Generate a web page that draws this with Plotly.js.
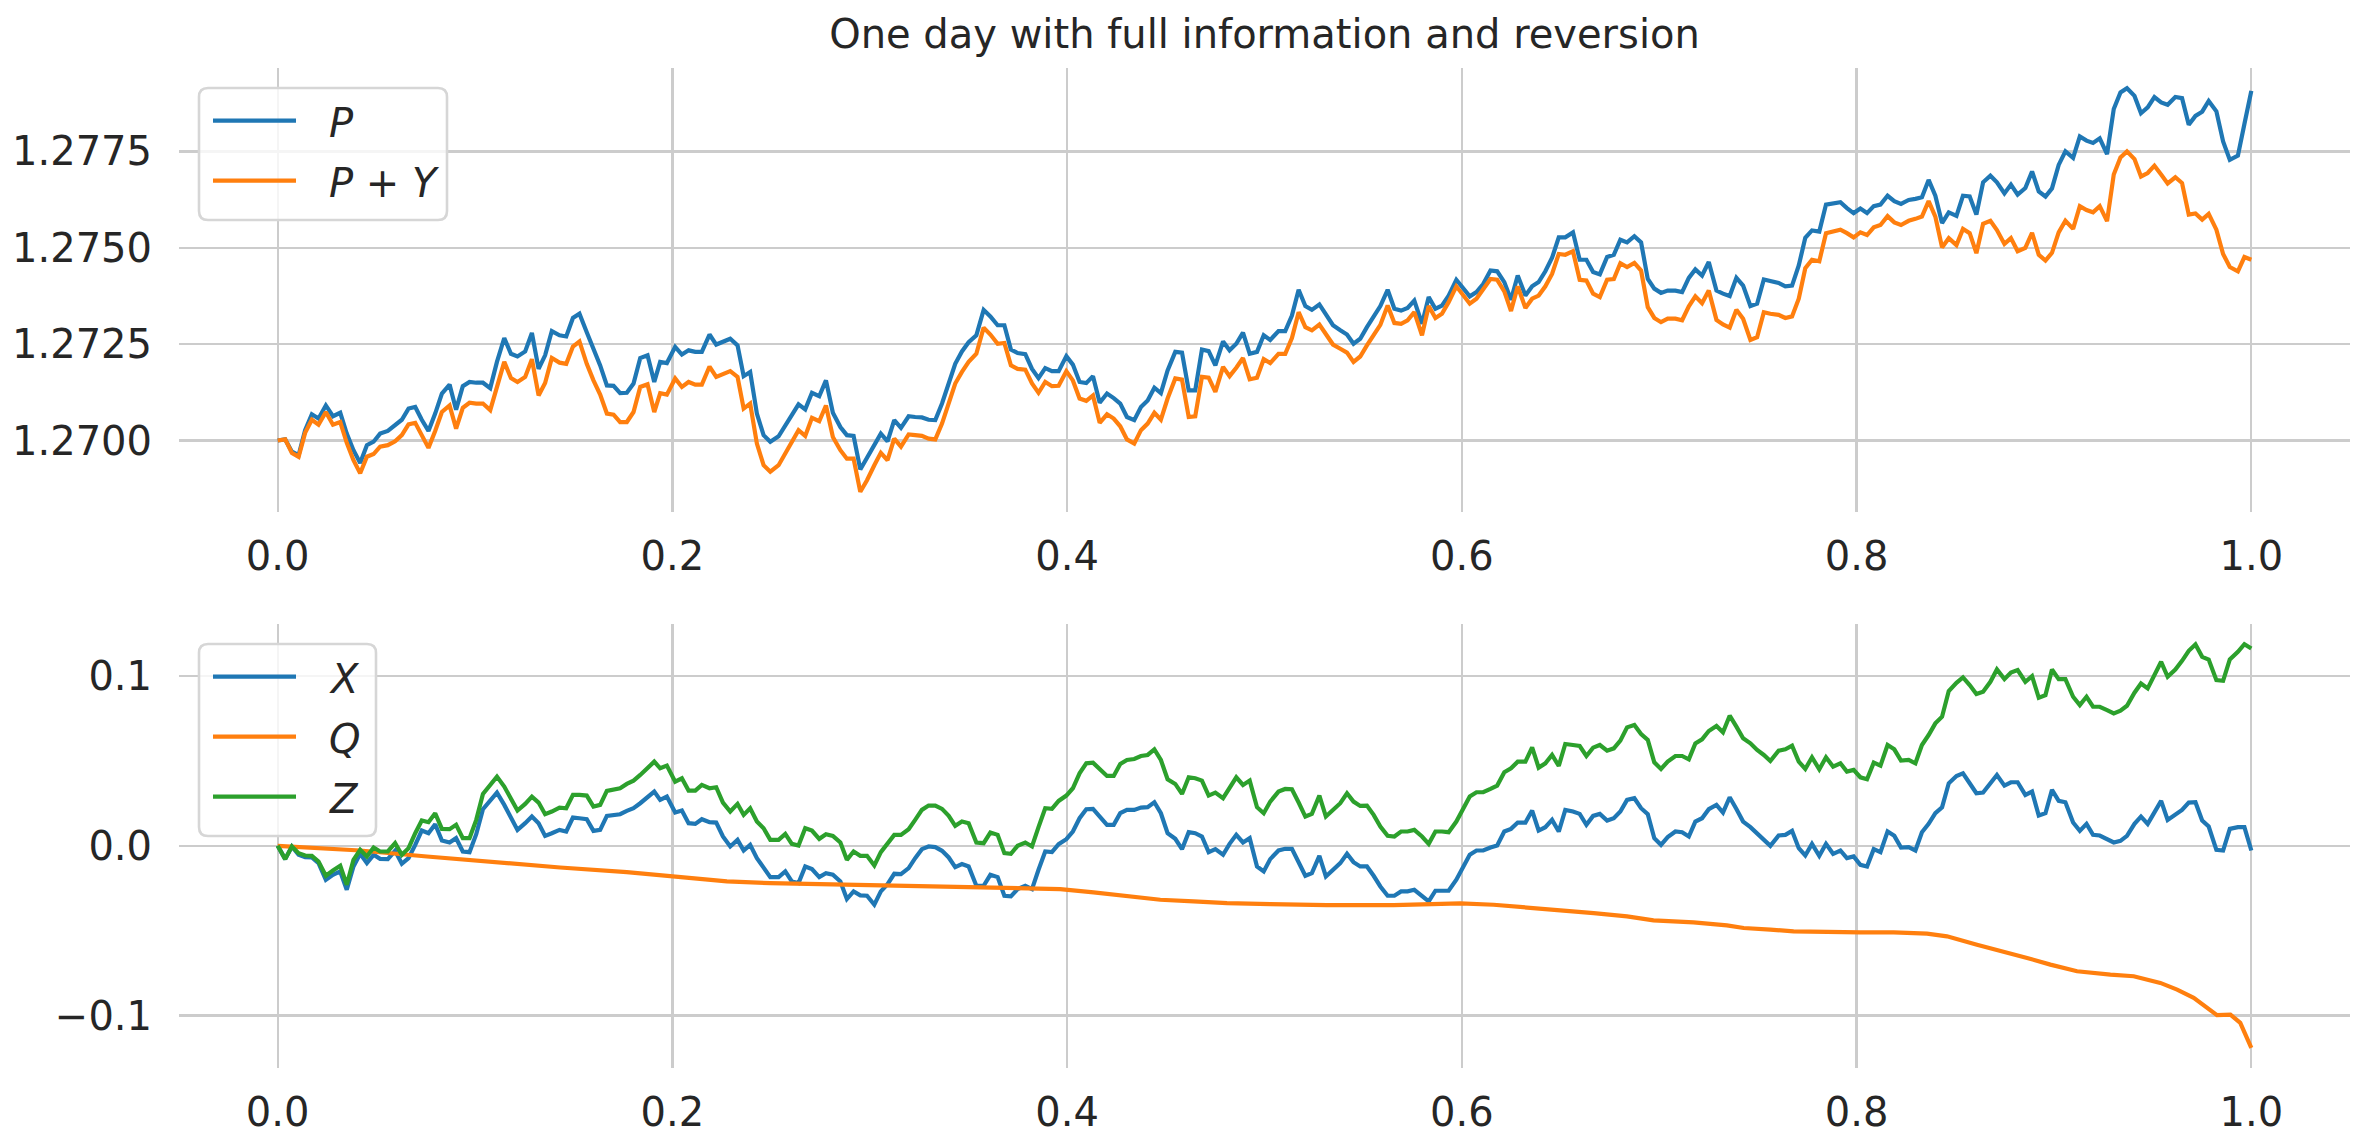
<!DOCTYPE html>
<html>
<head>
<meta charset="utf-8">
<script src="https://cdn.plot.ly/plotly-3.0.1.min.js"></script>
<style>
html,body{margin:0;padding:0;background:#ffffff;}
#chart{width:2369px;height:1148px;}
</style>
</head>
<body>
<div id="chart"></div>
<script>
// ---- data ----
const t = [
0, .0038, .0072, .0106, .0139, .0173, .0207, .0244, .0280, .0317,
.0350, .0384, .0418, .0452, .0486, .0519, .0558, .0595, .0629, .0663,
.0697, .0730, .0764, .0798, .0832, .0871, .0904, .0938, .0972, .1006,
.1040, .1077, .1111, .1148, .1182, .1215, .1254, .1288, .1322, .1355,
.1389, .1428, .1462, .1496, .1529, .1566, .1600, .1634, .1668, .1702,
.1735, .1769, .1803, .1837, .1874, .1908, .1938, .1972, .2014, .2048,
.2082, .2116, .2149, .2188, .2222, .2256, .2293, .2330, .2361, .2394,
.2428, .2462, .2496,
.2538, .2572, .2605, .2639, .2673, .2707, .2744, .2778, .2813, .2851,
.2884, .2918, .2952, .2986, .3023, .3056, .3090, .3124, .3158, .3197,
.3230, .3264, .3298, .3332, .3366, .3400, .3433, .3467, .3501, .3540,
.3577, .3611, .3648, .3682, .3715, .3749, .3788, .3822, .3855, .3889,
.3923, .3957, .3996, .4029, .4063, .4097, .4131, .4165, .4202, .4236,
.4269, .4303, .4340, .4374, .4408, .4442, .4475, .4509, .4548, .4582,
.4616, .4649, .4683, .4717, .4751, .4790, .4823, .4857, .4891, .4925,
.4962, .4996, .5029,
.5071, .5105, .5139, .5173, .5207, .5240, .5278, .5311, .5347, .5384,
.5418, .5451, .5485, .5519, .5553, .5587, .5624, .5658, .5692, .5725,
.5759, .5798, .5832, .5866, .5899, .5933, .5972, .6006, .6040, .6074,
.6108, .6145, .6179, .6215, .6249, .6283, .6322, .6356, .6389, .6423,
.6457, .6491, .6524, .6563, .6597, .6631, .6665, .6699, .6736, .6770,
.6803, .6837, .6874, .6908, .6942, .6975, .7009, .7043, .7082, .7116,
.7150, .7183, .7217, .7251, .7290, .7323, .7357, .7391, .7425, .7462,
.7496, .7530, .7563,
.7605, .7639, .7673, .7707, .7740, .7774, .7811, .7845, .7881, .7918,
.7951, .7985, .8019, .8053, .8087, .8121, .8157, .8191, .8225, .8264,
.8298, .8331, .8365, .8399, .8433, .8467, .8506, .8539, .8573, .8607,
.8641, .8678, .8711, .8749, .8782, .8816, .8855, .8889, .8923, .8957,
.8990, .9024, .9058, .9097, .9131, .9165, .9198, .9232, .9269, .9303,
.9337, .9370, .9408, .9441, .9475, .9509, .9543, .9576, .9615, .9649,
.9683, .9717, .9751, .9784, .9823, .9857, .9891, .9932, .9965, 1.0
];

const P = [
1.27000, 1.27003, 1.26971, 1.26962, 1.27027, 1.27068, 1.27057, 1.27091, 1.27063, 1.27072,
1.27018, 1.26975, 1.26942, 1.26988, 1.26997, 1.27018, 1.27025, 1.27040, 1.27054, 1.27083,
1.27087, 1.27054, 1.27025, 1.27070, 1.27122, 1.27145, 1.27080, 1.27141, 1.27152, 1.27150,
1.27150, 1.27136, 1.27204, 1.27266, 1.27225, 1.27218, 1.27231, 1.27279, 1.27186, 1.27221,
1.27284, 1.27273, 1.27270, 1.27318, 1.27329, 1.27281, 1.27238, 1.27195, 1.27143, 1.27142,
1.27123, 1.27124, 1.27148, 1.27214, 1.27221, 1.27152, 1.27204, 1.27201, 1.27243, 1.27223,
1.27234, 1.27230, 1.27230, 1.27275, 1.27249, 1.27255, 1.27264, 1.27247, 1.27167, 1.27178,
1.27070, 1.27014, 1.26997,
1.27011, 1.27040, 1.27070, 1.27094, 1.27081, 1.27124, 1.27115, 1.27156, 1.27072, 1.27035,
1.27014, 1.27012, 1.26925, 1.26955, 1.26988, 1.27018, 1.26998, 1.27053, 1.27033, 1.27063,
1.27061, 1.27060, 1.27054, 1.27053, 1.27096, 1.27148, 1.27199, 1.27231, 1.27255, 1.27273,
1.27339, 1.27322, 1.27299, 1.27299, 1.27236, 1.27227, 1.27224, 1.27186, 1.27162, 1.27188,
1.27180, 1.27180, 1.27219, 1.27197, 1.27152, 1.27149, 1.27167, 1.27098, 1.27122, 1.27110,
1.27096, 1.27061, 1.27053, 1.27087, 1.27104, 1.27137, 1.27123, 1.27182, 1.27230, 1.27228,
1.27130, 1.27130, 1.27236, 1.27232, 1.27195, 1.27257, 1.27234, 1.27251, 1.27280, 1.27225,
1.27230, 1.27273, 1.27261,
1.27284, 1.27284, 1.27324, 1.27391, 1.27349, 1.27339, 1.27353, 1.27329, 1.27299, 1.27286,
1.27275, 1.27251, 1.27264, 1.27294, 1.27324, 1.27349, 1.27391, 1.27342, 1.27337, 1.27344,
1.27363, 1.27303, 1.27372, 1.27342, 1.27350, 1.27376, 1.27417, 1.27394, 1.27374, 1.27385,
1.27406, 1.27441, 1.27439, 1.27411, 1.27365, 1.27428, 1.27376, 1.27400, 1.27411, 1.27439,
1.27474, 1.27527, 1.27527, 1.27540, 1.27469, 1.27469, 1.27437, 1.27431, 1.27476, 1.27482,
1.27521, 1.27514, 1.27530, 1.27514, 1.27419, 1.27394, 1.27383, 1.27389, 1.27389, 1.27385,
1.27422, 1.27444, 1.27428, 1.27463, 1.27389, 1.27381, 1.27375, 1.27422, 1.27402, 1.27349,
1.27355, 1.27418, 1.27413,
1.27409, 1.27400, 1.27402, 1.27454, 1.27526, 1.27545, 1.27542, 1.27612, 1.27615, 1.27618,
1.27603, 1.27590, 1.27602, 1.27590, 1.27608, 1.27612, 1.27635, 1.27621, 1.27614, 1.27624,
1.27627, 1.27631, 1.27676, 1.27635, 1.27564, 1.27592, 1.27583, 1.27635, 1.27633, 1.27586,
1.27670, 1.27687, 1.27670, 1.27641, 1.27664, 1.27638, 1.27655, 1.27698, 1.27646, 1.27633,
1.27654, 1.27715, 1.27750, 1.27733, 1.27789, 1.27778, 1.27772, 1.27784, 1.27743, 1.27860,
1.27903, 1.27914, 1.27894, 1.27849, 1.27864, 1.27891, 1.27877, 1.27871, 1.27891, 1.27888,
1.27819, 1.27842, 1.27853, 1.27881, 1.27854, 1.27776, 1.27728, 1.27739, 1.27821, 1.27907
];

const PY = [
1.27000, 1.27003, 1.26968, 1.26958, 1.27020, 1.27054, 1.27041, 1.27074, 1.27041, 1.27048,
1.26994, 1.26949, 1.26915, 1.26958, 1.26965, 1.26984, 1.26988, 1.26998, 1.27014, 1.27042,
1.27046, 1.27014, 1.26981, 1.27025, 1.27074, 1.27091, 1.27031, 1.27085, 1.27098, 1.27096,
1.27096, 1.27079, 1.27143, 1.27204, 1.27162, 1.27152, 1.27165, 1.27211, 1.27117, 1.27149,
1.27214, 1.27202, 1.27199, 1.27244, 1.27257, 1.27199, 1.27156, 1.27119, 1.27070, 1.27067,
1.27048, 1.27048, 1.27074, 1.27139, 1.27146, 1.27074, 1.27123, 1.27119, 1.27161, 1.27139,
1.27152, 1.27145, 1.27145, 1.27192, 1.27165, 1.27171, 1.27180, 1.27165, 1.27083, 1.27096,
1.26992, 1.26936, 1.26919,
1.26936, 1.26966, 1.26997, 1.27027, 1.27012, 1.27059, 1.27050, 1.27091, 1.27009, 1.26975,
1.26953, 1.26953, 1.26867, 1.26897, 1.26936, 1.26968, 1.26949, 1.27005, 1.26984, 1.27016,
1.27014, 1.27012, 1.27005, 1.27003, 1.27044, 1.27096, 1.27148, 1.27178, 1.27204, 1.27225,
1.27293, 1.27275, 1.27251, 1.27253, 1.27195, 1.27186, 1.27184, 1.27148, 1.27124, 1.27152,
1.27141, 1.27142, 1.27180, 1.27156, 1.27109, 1.27103, 1.27117, 1.27046, 1.27068, 1.27057,
1.27037, 1.27003, 1.26992, 1.27027, 1.27044, 1.27072, 1.27054, 1.27109, 1.27161, 1.27158,
1.27061, 1.27063, 1.27165, 1.27163, 1.27126, 1.27191, 1.27167, 1.27189, 1.27214, 1.27159,
1.27163, 1.27211, 1.27201,
1.27225, 1.27225, 1.27266, 1.27333, 1.27294, 1.27286, 1.27301, 1.27277, 1.27249, 1.27238,
1.27228, 1.27204, 1.27218, 1.27247, 1.27275, 1.27300, 1.27350, 1.27305, 1.27303, 1.27312,
1.27333, 1.27273, 1.27349, 1.27318, 1.27329, 1.27359, 1.27400, 1.27378, 1.27355, 1.27368,
1.27391, 1.27419, 1.27417, 1.27387, 1.27336, 1.27400, 1.27344, 1.27368, 1.27376, 1.27400,
1.27432, 1.27484, 1.27482, 1.27491, 1.27417, 1.27415, 1.27381, 1.27372, 1.27417, 1.27419,
1.27460, 1.27450, 1.27461, 1.27441, 1.27346, 1.27318, 1.27307, 1.27316, 1.27316, 1.27312,
1.27348, 1.27374, 1.27356, 1.27389, 1.27313, 1.27301, 1.27293, 1.27339, 1.27316, 1.27261,
1.27268, 1.27333, 1.27329,
1.27326, 1.27318, 1.27322, 1.27368, 1.27447, 1.27469, 1.27465, 1.27538, 1.27543, 1.27547,
1.27538, 1.27527, 1.27540, 1.27533, 1.27553, 1.27559, 1.27582, 1.27566, 1.27559, 1.27570,
1.27575, 1.27581, 1.27621, 1.27581, 1.27501, 1.27525, 1.27507, 1.27549, 1.27538, 1.27486,
1.27562, 1.27570, 1.27546, 1.27510, 1.27525, 1.27491, 1.27500, 1.27539, 1.27482, 1.27467,
1.27487, 1.27540, 1.27570, 1.27549, 1.27608, 1.27598, 1.27592, 1.27608, 1.27569, 1.27690,
1.27734, 1.27750, 1.27730, 1.27685, 1.27694, 1.27713, 1.27690, 1.27667, 1.27683, 1.27668,
1.27586, 1.27589, 1.27573, 1.27588, 1.27547, 1.27484, 1.27450, 1.27439, 1.27476, 1.27469
];

const X = [
0, -0.00784, -0.00039, -0.00529, -0.00667, -0.00686, -0.01020, -0.02000, -0.01706, -0.01510,
-0.02588, -0.01216, -0.00471, -0.01020, -0.00529, -0.00765, -0.00784, -0.00294, -0.01059, -0.00725,
0.00059, 0.00902, 0.00745, 0.01275, 0.00314, 0.00196, 0.00451, -0.00333, -0.00373, 0.00686,
0.02157, 0.02647, 0.03137, 0.02412, 0.01686, 0.00941, 0.01333, 0.01725, 0.01333, 0.00588,
0.00745, 0.00941, 0.00843, 0.01667, 0.01627, 0.01569, 0.00882, 0.00941, 0.01765, 0.01824,
0.01863, 0.02059, 0.02216, 0.02510, 0.02843, 0.03196, 0.02706, 0.02902, 0.01961, 0.02078,
0.01333, 0.01294, 0.01569, 0.01392, 0.01373, 0.00549, -0.00039, 0.00353, -0.00275, 0.00059,
-0.00725, -0.01255, -0.01843,
-0.01843, -0.01510, -0.02098, -0.02196, -0.01216, -0.01373, -0.01843, -0.01608, -0.01706, -0.02098,
-0.03137, -0.02686, -0.02922, -0.02941, -0.03471, -0.02686, -0.02255, -0.01647, -0.01667, -0.01314,
-0.00725, -0.00196, -0.00039, -0.00078, -0.00294, -0.00686, -0.01255, -0.01078, -0.01216, -0.02353,
-0.02353, -0.01706, -0.01843, -0.02941, -0.02980, -0.02549, -0.02353, -0.02549, -0.01412, -0.00333,
-0.00373, 0.00098, 0.00392, 0.00843, 0.01627, 0.02157, 0.02176, 0.01725, 0.01235, 0.01235,
0.01922, 0.02118, 0.02118, 0.02255, 0.02275, 0.02569, 0.01922, 0.00745, 0.00412, -0.00196,
0.00804, 0.00745, 0.00549, -0.00373, -0.00196, -0.00529, 0.00118, 0.00647, 0.00196, 0.00451,
-0.01216, -0.01510, -0.00784,
-0.00275, -0.00176, -0.00176, -0.00961, -0.01765, -0.01608, -0.00588, -0.01804, -0.01412, -0.01020,
-0.00471, -0.00961, -0.01216, -0.01216, -0.01765, -0.02392, -0.02941, -0.02941, -0.02686, -0.02686,
-0.02588, -0.02980, -0.03275, -0.02647, -0.02647, -0.02647, -0.02000, -0.01255, -0.00529, -0.00275,
-0.00275, -0.00098, 0.00020, 0.00843, 0.01000, 0.01373, 0.01373, 0.02078, 0.00902, 0.01098,
0.01529, 0.00843, 0.02118, 0.02020, 0.01882, 0.01235, 0.01765, 0.01882, 0.01490, 0.01627,
0.02020, 0.02706, 0.02804, 0.02216, 0.01863, 0.00451, 0.00059, 0.00510, 0.00843, 0.00804,
0.00549, 0.01431, 0.01627, 0.02157, 0.02412, 0.01961, 0.02863, 0.02176, 0.01431, 0.01098,
0.00706, 0.00353, 0,
0.00608, 0.00647, 0.00882, -0.00137, -0.00569, 0.00118, -0.00588, 0.00118, -0.00471, -0.00275,
-0.00725, -0.00627, -0.01118, -0.01216, -0.00196, -0.00373, 0.00843, 0.00588, -0.00098, -0.00078,
-0.00275, 0.00804, 0.01294, 0.01922, 0.02275, 0.03686, 0.04118, 0.04275, 0.03686, 0.03098,
0.03137, 0.03647, 0.04176, 0.03549, 0.03745, 0.03745, 0.03000, 0.03196, 0.01784, 0.01922,
0.03294, 0.02647, 0.02569, 0.01373, 0.00882, 0.01294, 0.00647, 0.00608, 0.00412, 0.00196,
0.00294, 0.00588, 0.01294, 0.01725, 0.01294, 0.01980, 0.02647, 0.01529, 0.01824, 0.02118,
0.02549, 0.02569, 0.01490, 0.01137, -0.00235, -0.00275, 0.01000, 0.01098, 0.01098, -0.00275
];

const Z = [
0, -0.00784, -0.00039, -0.00431, -0.00569, -0.00588, -0.00922, -0.01765, -0.01451, -0.01176,
-0.02294, -0.00824, -0.00235, -0.00627, -0.00098, -0.00333, -0.00333, 0.00157, -0.00529, -0.00137,
0.00745, 0.01490, 0.01392, 0.01922, 0.01000, 0.00980, 0.01235, 0.00451, 0.00451, 0.01529,
0.03059, 0.03549, 0.04078, 0.03490, 0.02804, 0.02078, 0.02471, 0.02902, 0.02549, 0.01863,
0.02020, 0.02255, 0.02216, 0.03000, 0.03000, 0.02961, 0.02314, 0.02412, 0.03235, 0.03333,
0.03392, 0.03647, 0.03843, 0.04176, 0.04569, 0.04961, 0.04569, 0.04725, 0.03784, 0.03980,
0.03255, 0.03255, 0.03588, 0.03392, 0.03451, 0.02549, 0.02020, 0.02471, 0.01824, 0.02216,
0.01431, 0.01039, 0.00353,
0.00353, 0.00706, 0.00118, 0.00020, 0.01039, 0.00902, 0.00412, 0.00686, 0.00588, 0.00196,
-0.00824, -0.00333, -0.00588, -0.00588, -0.01157, -0.00373, 0.00098, 0.00647, 0.00647, 0.00980,
0.01529, 0.02118, 0.02373, 0.02373, 0.02176, 0.01765, 0.01176, 0.01431, 0.01333, 0.00196,
0.00157, 0.00784, 0.00647, -0.00431, -0.00471, 0, 0.00196, -0.00039, 0.01098, 0.02216,
0.02176, 0.02647, 0.02961, 0.03392, 0.04275, 0.04863, 0.04902, 0.04529, 0.04118, 0.04118,
0.04824, 0.05059, 0.05118, 0.05294, 0.05353, 0.05686, 0.05059, 0.03922, 0.03647, 0.03059,
0.04039, 0.03980, 0.03843, 0.02961, 0.03137, 0.02804, 0.03451, 0.04039, 0.03588, 0.03843,
0.02275, 0.01922, 0.02608,
0.03196, 0.03353, 0.03333, 0.02549, 0.01725, 0.01882, 0.02961, 0.01725, 0.02118, 0.02510,
0.03098, 0.02608, 0.02353, 0.02373, 0.01824, 0.01137, 0.00588, 0.00549, 0.00843, 0.00843,
0.00941, 0.00549, 0.00118, 0.00843, 0.00843, 0.00804, 0.01431, 0.02157, 0.02902, 0.03157,
0.03157, 0.03353, 0.03549, 0.04333, 0.04569, 0.04961, 0.04961, 0.05804, 0.04608, 0.04863,
0.05353, 0.04706, 0.06000, 0.05941, 0.05882, 0.05294, 0.05784, 0.05941, 0.05608, 0.05745,
0.06196, 0.06980, 0.07118, 0.06588, 0.06235, 0.04922, 0.04529, 0.04961, 0.05294, 0.05294,
0.05098, 0.06039, 0.06275, 0.06765, 0.07059, 0.06686, 0.07667, 0.07020, 0.06333, 0.06039,
0.05647, 0.05353, 0.05000,
0.05608, 0.05686, 0.05902, 0.04961, 0.04529, 0.05216, 0.04510, 0.05216, 0.04667, 0.04863,
0.04373, 0.04471, 0.04039, 0.03922, 0.04902, 0.04725, 0.05941, 0.05686, 0.05020, 0.05059,
0.04863, 0.05941, 0.06529, 0.07216, 0.07608, 0.09118, 0.09608, 0.09922, 0.09471, 0.08941,
0.09078, 0.09667, 0.10392, 0.09824, 0.10216, 0.10353, 0.09667, 0.10000, 0.08725, 0.08882,
0.10392, 0.09824, 0.09824, 0.08784, 0.08294, 0.08784, 0.08196, 0.08196, 0.08000, 0.07804,
0.07961, 0.08255, 0.09020, 0.09569, 0.09275, 0.10098, 0.10843, 0.09961, 0.10392, 0.10902,
0.11490, 0.11863, 0.11137, 0.10980, 0.09765, 0.09725, 0.10980, 0.11431, 0.11882, 0.11627
];

const tQ = [
0, .0418, .0756, .1094, .1431, .1769, .2006, .2276, .2496, .2782,
.3120, .3458, .3796, .3965, .4134, .4303, .4472, .4641, .4810, .5029,
.5316, .5654, .5823, .5992, .6161, .6330, .6499, .6668, .6837, .6971,
.7174, .7343, .7428, .7563, .7681, .8019, .8188, .8357, .8458, .8610,
.8695, .8864, .8982, .9117, .9286, .9404, .9539, .9624, .9708, .9776,
.9826, .9894, .9944, 1.0
];
const Q = [
0, -0.00275, -0.00627, -0.00980, -0.01275, -0.01549, -0.01804, -0.02098, -0.02196, -0.02255,
-0.02314, -0.02431, -0.02490, -0.02549, -0.02745, -0.02941, -0.03176, -0.03275, -0.03373, -0.03431,
-0.03490, -0.03490, -0.03431, -0.03392, -0.03471, -0.03608, -0.03804, -0.03961, -0.04157, -0.04392,
-0.04510, -0.04686, -0.04843, -0.04941, -0.05039, -0.05098, -0.05098, -0.05176, -0.05333, -0.05824,
-0.06078, -0.06608, -0.07000, -0.07392, -0.07588, -0.07686, -0.08078, -0.08471, -0.08961, -0.09549,
-0.09980, -0.09941, -0.10431, -0.11902
];

const titleText = "One day with full information and reversion";
const topNames = ["<i>P</i>", "<i>P</i> + <i>Y</i>"];
const botNames = ["<i>X</i>", "<i>Q</i>", "<i>Z</i>"];

// ---- styling ----
const C = {blue: "#1f77b4", orange: "#ff7f0e", green: "#2ca02c", text: "#262626", grid: "#cccccc"};
const FONT = "DejaVu Sans, Verdana, sans-serif";
const W = 2369, H = 1148;
const M = {l: 179, r: 19, t: 68, b: 80};
const PW = W - M.l - M.r, PH = H - M.t - M.b;
const fx = px => (px - M.l) / PW;
const fy = py => (H - M.b - py) / PH;

function padded(arrs) {
  let mn = Infinity, mx = -Infinity;
  arrs.forEach(a => a.forEach(v => { if (v < mn) mn = v; if (v > mx) mx = v; }));
  const p = (mx - mn) * 0.05;
  return [mn - p, mx + p];
}

const LW = 4.2;
const traces = [
  {x: t, y: P, name: topNames[0], type: "scatter", mode: "lines", line: {color: C.blue, width: LW}, xaxis: "x", yaxis: "y"},
  {x: t, y: PY, name: topNames[1], type: "scatter", mode: "lines", line: {color: C.orange, width: LW}, xaxis: "x", yaxis: "y"},
  {x: t, y: X, name: botNames[0], type: "scatter", mode: "lines", line: {color: C.blue, width: LW}, xaxis: "x2", yaxis: "y2"},
  {x: tQ, y: Q, name: botNames[1], type: "scatter", mode: "lines", line: {color: C.orange, width: LW}, xaxis: "x2", yaxis: "y2"},
  {x: t, y: Z, name: botNames[2], type: "scatter", mode: "lines", line: {color: C.green, width: LW}, xaxis: "x2", yaxis: "y2"}
];

const tickFont = {family: FONT, size: 40, color: C.text};
const xCommon = {
  range: padded([t]), tick0: 0, dtick: 0.2, tickformat: ".1f",
  showgrid: true, gridcolor: C.grid, gridwidth: 2.2, zeroline: false, showline: false,
  ticks: "outside", ticklen: 9, tickcolor: "rgba(0,0,0,0)", tickfont: tickFont
};
const yCommon = {
  showgrid: true, gridcolor: C.grid, gridwidth: 2.2, zeroline: false, showline: false,
  ticks: "outside", ticklen: 18, tickcolor: "rgba(0,0,0,0)", tickfont: tickFont
};

// custom matplotlib-like legends
function roundRect(x0, y0, x1, y1, r) {
  const X_ = v => fx(v).toFixed(6), Y_ = v => fy(v).toFixed(6);
  return `M ${X_(x0 + r)},${Y_(y0)} L ${X_(x1 - r)},${Y_(y0)} Q ${X_(x1)},${Y_(y0)} ${X_(x1)},${Y_(y0 + r)} ` +
         `L ${X_(x1)},${Y_(y1 - r)} Q ${X_(x1)},${Y_(y1)} ${X_(x1 - r)},${Y_(y1)} ` +
         `L ${X_(x0 + r)},${Y_(y1)} Q ${X_(x0)},${Y_(y1)} ${X_(x0)},${Y_(y1 - r)} ` +
         `L ${X_(x0)},${Y_(y0 + r)} Q ${X_(x0)},${Y_(y0)} ${X_(x0 + r)},${Y_(y0)} Z`;
}
const shapes = [], annotations = [];
function legend(box, rows) {
  shapes.push({type: "path", xref: "paper", yref: "paper", layer: "above",
    path: roundRect(box[0], box[1], box[2], box[3], 9),
    fillcolor: "rgba(255,255,255,0.8)", line: {color: "#d6d6d6", width: 2.6}});
  rows.forEach(r => {
    shapes.push({type: "line", xref: "paper", yref: "paper", layer: "above",
      x0: fx(213), x1: fx(296), y0: fy(r.y), y1: fy(r.y),
      line: {color: r.color, width: LW}});
    annotations.push({xref: "paper", yref: "paper", x: fx(327), y: fy(r.y + 2),
      xanchor: "left", yanchor: "middle", showarrow: false, text: r.name,
      font: {family: FONT, size: 40, color: C.text}});
  });
}
legend([199, 88, 447, 220], [
  {y: 120.7, color: C.blue, name: topNames[0]},
  {y: 180.7, color: C.orange, name: topNames[1]}
]);
legend([199, 644, 376, 836], [
  {y: 676.7, color: C.blue, name: botNames[0]},
  {y: 736.7, color: C.orange, name: botNames[1]},
  {y: 796.7, color: C.green, name: botNames[2]}
]);

const layout = {
  width: W, height: H, margin: M,
  paper_bgcolor: "#ffffff", plot_bgcolor: "#ffffff",
  showlegend: false,
  font: {family: FONT, color: C.text, size: 40},
  title: {text: titleText, font: {family: FONT, size: 40, color: C.text},
          x: 0.5, xref: "paper", xanchor: "center", y: 1 - 34 / H, yref: "container", yanchor: "middle"},
  xaxis: Object.assign({}, xCommon, {domain: [0, 1], anchor: "y"}),
  yaxis: Object.assign({}, yCommon, {domain: [fy(512), 1], anchor: "x",
    range: padded([P, PY]), tick0: 1.27, dtick: 0.0025, tickformat: ".4f"}),
  xaxis2: Object.assign({}, xCommon, {domain: [0, 1], anchor: "y2"}),
  yaxis2: Object.assign({}, yCommon, {domain: [0, fy(624)], anchor: "x2",
    range: padded([X, Q, Z]), tick0: 0, dtick: 0.1, tickformat: ".1f"}),
  shapes: shapes,
  annotations: annotations
};

Plotly.newPlot("chart", traces, layout, {displayModeBar: false, staticPlot: true});
</script>
</body>
</html>
